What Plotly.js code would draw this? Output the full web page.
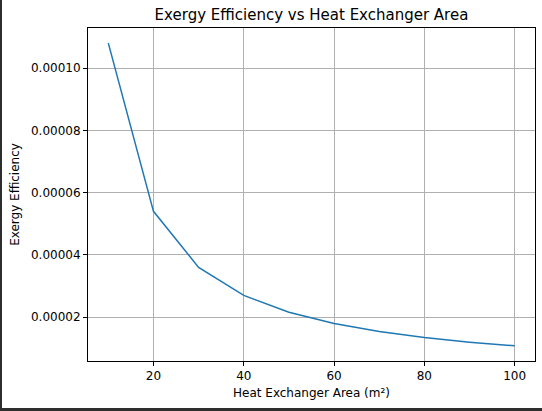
<!DOCTYPE html>
<html>
<head>
<meta charset="utf-8">
<script src="https://cdn.plot.ly/plotly-3.0.1.min.js"></script>
<style>
  html, body { margin: 0; padding: 0; }
  body { width: 542px; height: 411px; background: #2e2e2e; position: relative; overflow: hidden; }
  #chart { position: absolute; left: 2px; top: 0; width: 540px; height: 408px; background: #fff; }
</style>
</head>
<body>
<div id="chart"></div>
<script>
// heat exchanger area (m²) and exergy efficiency
var area = [10, 20, 30, 40, 50, 60, 70, 80, 90, 100];
var efficiency = [0.000108, 0.000054, 0.000036, 0.000027, 0.0000216,
                  0.000018, 0.0000154, 0.0000135, 0.000012, 0.0000108];
var xTicks = [20, 40, 60, 80, 100];
var yTicks = [0.00002, 0.00004, 0.00006, 0.00008, 0.0001];
var yTickText = ['0.00002', '0.00004', '0.00006', '0.00008', '0.00010'];

var trace = {
  type: 'scatter',
  mode: 'lines',
  x: area,
  y: efficiency,
  line: { color: '#1f77b4', width: 1.5 },
  hoverinfo: 'x+y'
};

var font = { family: 'DejaVu Sans, sans-serif', size: 12, color: '#000' };

var layout = {
  width: 540,
  height: 408,
  margin: { l: 86, r: 7, t: 28, b: 47 },
  paper_bgcolor: '#fff',
  plot_bgcolor: '#fff',
  font: font,
  showlegend: false,
  title: {
    text: 'Exergy Efficiency vs Heat Exchanger Area',
    font: { family: 'DejaVu Sans, sans-serif', size: 15, color: '#000' },
    x: 0.5, xref: 'paper', xanchor: 'center',
    y: 0.963, yref: 'container', yanchor: 'middle'
  },
  xaxis: {
    range: [5.5, 104.5],
    tickmode: 'array',
    tickvals: xTicks,
    ticks: 'outside', ticklen: 4, tickcolor: '#000', tickwidth: 1,
    showline: true, linecolor: '#000', linewidth: 1, mirror: true,
    showgrid: true, gridcolor: '#b0b0b0', gridwidth: 1,
    zeroline: false,
    tickfont: font,
    title: { text: 'Heat Exchanger Area (m²)', font: font, standoff: 6 }
  },
  yaxis: {
    range: [0.00000594, 0.00011286],
    tickmode: 'array',
    tickvals: yTicks,
    ticktext: yTickText,
    ticks: 'outside', ticklen: 4, tickcolor: '#000', tickwidth: 1,
    showline: true, linecolor: '#000', linewidth: 1, mirror: true,
    showgrid: true, gridcolor: '#b0b0b0', gridwidth: 1,
    zeroline: false,
    tickfont: font,
    title: { text: 'Exergy Efficiency', font: font, standoff: 8 }
  }
};

Plotly.newPlot('chart', [trace], layout, { displayModeBar: false, staticPlot: true });
</script>
</body>
</html>
